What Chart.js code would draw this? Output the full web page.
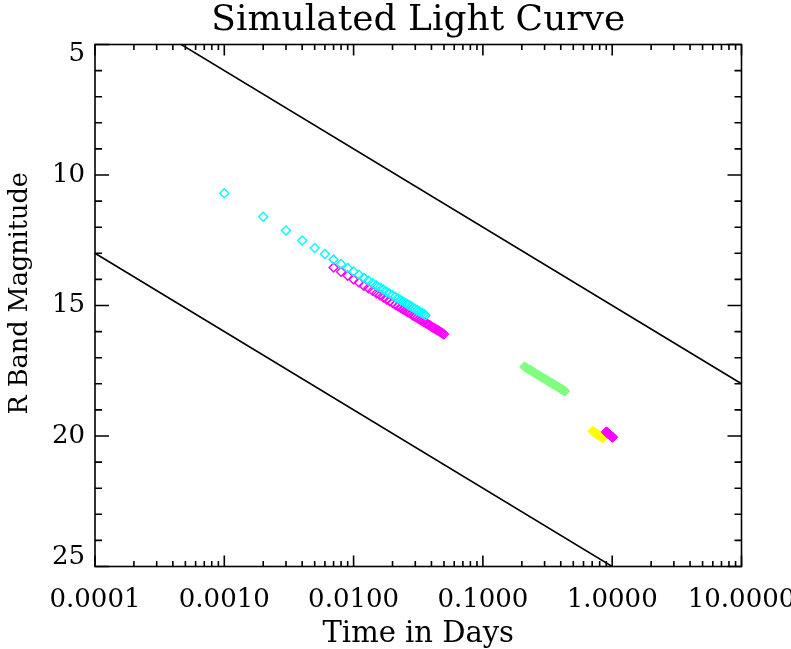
<!DOCTYPE html>
<html>
<head>
<meta charset="utf-8">
<title>Simulated Light Curve</title>
<script src="https://cdn.jsdelivr.net/npm/chart.js@4.4.1/dist/chart.umd.min.js"></script>
<style>
	html, body { margin: 0; padding: 0; background: #fff; }
	canvas { display: block; }
</style>
</head>
<body>
<canvas id="light-curve" width="791" height="649"></canvas>
<script>
/*jshint esversion: 6 */

// axis ticks
const xTicks = [ 0.0001, 0.001, 0.01, 0.1, 1, 10 ];
const yTicks = [ 5, 10, 15, 20, 25 ];

// the two black reference lines (clipped by the plot area)
const lineTime = [ 0.0001, 10 ];
const upperLineMag = [ 3, 18 ];
const lowerLineMag = [ 13, 28 ];

// cyan diamonds
const cyanTime = [ 0.001, 0.002, 0.003, 0.004, 0.005, 0.006, 0.007, 0.008, 0.009, 0.010,
	0.011, 0.012, 0.013, 0.014, 0.015, 0.016, 0.017, 0.018, 0.019, 0.020,
	0.021, 0.022, 0.023, 0.024, 0.025, 0.026, 0.027, 0.028, 0.029, 0.030,
	0.031, 0.032, 0.033, 0.034, 0.035, 0.036 ];
const cyanMag = [ 10.70, 11.60, 12.13, 12.51, 12.80, 13.03, 13.24, 13.41, 13.56, 13.70,
	13.82, 13.94, 14.04, 14.14, 14.23, 14.31, 14.39, 14.47, 14.54, 14.60,
	14.67, 14.73, 14.79, 14.84, 14.89, 14.95, 14.99, 15.04, 15.09, 15.13,
	15.17, 15.22, 15.26, 15.29, 15.33, 15.37 ];

// magenta diamonds, early part
const magentaTime = [ 0.007, 0.008, 0.009, 0.010, 0.011, 0.012, 0.013, 0.014, 0.015, 0.016,
	0.017, 0.018, 0.019, 0.020, 0.021, 0.022, 0.023, 0.024, 0.025, 0.026,
	0.027, 0.028, 0.029, 0.030, 0.031, 0.032, 0.033, 0.034, 0.035, 0.036,
	0.037, 0.038, 0.039, 0.040, 0.041, 0.042, 0.043, 0.044, 0.045, 0.046,
	0.047, 0.048, 0.049, 0.050 ];
const magentaMag = [ 13.54, 13.71, 13.86, 14.00, 14.12, 14.24, 14.34, 14.44, 14.53, 14.61,
	14.69, 14.77, 14.84, 14.90, 14.97, 15.03, 15.09, 15.14, 15.19, 15.25,
	15.29, 15.34, 15.39, 15.43, 15.47, 15.52, 15.56, 15.59, 15.63, 15.67,
	15.70, 15.74, 15.77, 15.81, 15.84, 15.87, 15.90, 15.93, 15.96, 15.99,
	16.02, 16.04, 16.07, 16.10 ];

// green cluster
const greenTime = [ 0.21, 0.22, 0.23, 0.24, 0.25, 0.26, 0.27, 0.28, 0.29, 0.30, 0.31, 0.32,
	0.33, 0.34, 0.35, 0.36, 0.37, 0.38, 0.39, 0.40, 0.41, 0.42, 0.43 ];
const greenMag = [ 17.35, 17.41, 17.47, 17.52, 17.57, 17.63, 17.67, 17.72, 17.77, 17.81, 17.85, 17.90,
	17.94, 17.97, 18.01, 18.05, 18.08, 18.12, 18.15, 18.19, 18.22, 18.25, 18.28 ];

// yellow cluster
const yellowTime = [ 0.71, 0.73, 0.75, 0.77, 0.79, 0.81, 0.83, 0.85 ];
const yellowMag = [ 19.82, 19.86, 19.90, 19.94, 19.97, 20.01, 20.04, 20.07 ];

// magenta cluster near one day
const magentaLateTime = [ 0.90, 0.91, 0.92, 0.93, 0.94, 0.95, 0.96, 0.97, 0.98, 0.99, 1.00, 1.01 ];
const magentaLateMag = [ 19.84, 19.86, 19.88, 19.90, 19.92, 19.94, 19.96, 19.98, 20.00, 20.02, 20.04, 20.05 ];

const FONT = "'DejaVu Serif', 'Liberation Serif', serif";

const toPoints = ( xs, ys ) => xs.map( ( x, i ) => ( { x: x, y: ys[ i ] } ) );

const xMinorTicks = [];
for ( let i = 0; i < xTicks.length - 1; i++ ) {
	for ( let k = 2; k <= 9; k++ ) {
		xMinorTicks.push( xTicks[ i ] * k );
	}
}
const yMinorTicks = [];
for ( let v = yTicks[ 0 ]; v <= yTicks[ yTicks.length - 1 ]; v++ ) {
	yMinorTicks.push( v );
}

// frame with inward ticks on all four sides, IDL style
const frameTicks = {
	id: 'frameTicks',
	afterDatasetsDraw: ( chart ) => {
		const ctx = chart.ctx;
		const a = chart.chartArea;
		const x = chart.scales.x;
		const y = chart.scales.y;
		ctx.save();
		ctx.strokeStyle = '#000';
		ctx.lineWidth = 1.6;
		ctx.beginPath();
		const tickX = ( v, len ) => {
			const px = x.getPixelForValue( v );
			ctx.moveTo( px, a.bottom );
			ctx.lineTo( px, a.bottom - len );
			ctx.moveTo( px, a.top );
			ctx.lineTo( px, a.top + len );
		};
		const tickY = ( v, len ) => {
			const py = y.getPixelForValue( v );
			ctx.moveTo( a.left, py );
			ctx.lineTo( a.left + len, py );
			ctx.moveTo( a.right, py );
			ctx.lineTo( a.right - len, py );
		};
		xTicks.forEach( ( v ) => tickX( v, 11 ) );
		xMinorTicks.forEach( ( v ) => tickX( v, 5.5 ) );
		yTicks.forEach( ( v ) => tickY( v, 14 ) );
		yMinorTicks.forEach( ( v ) => tickY( v, 7 ) );
		ctx.stroke();
		ctx.strokeRect( a.left, a.top, a.right - a.left, a.bottom - a.top );
		ctx.restore();
	}
};

const hollow = ( data, color ) => ( {
	data: data,
	pointStyle: 'rectRot',
	pointRadius: 4.5,
	pointHoverRadius: 4.5,
	borderWidth: 1.4,
	borderColor: color,
	backgroundColor: 'rgba(0,0,0,0)',
	showLine: false
} );
const filled = ( data, color ) => ( {
	data: data,
	pointStyle: 'rectRot',
	pointRadius: 5,
	pointHoverRadius: 5,
	borderWidth: 1,
	borderColor: color,
	backgroundColor: color,
	showLine: false
} );
const line = ( data ) => ( {
	data: data,
	showLine: true,
	pointRadius: 0,
	borderColor: '#000',
	borderWidth: 1.6,
	fill: false
} );

window.onload = () => {
	const ctx = document.getElementById( 'light-curve' ).getContext( '2d' );
	new Chart( ctx, {
		type: 'scatter',
		data: {
			datasets: [
				hollow( toPoints( cyanTime, cyanMag ), '#00ffff' ),
				hollow( toPoints( magentaTime, magentaMag ), '#ff00ff' ),
				filled( toPoints( greenTime, greenMag ), '#80ff80' ),
				filled( toPoints( magentaLateTime, magentaLateMag ), '#ff00ff' ),
				filled( toPoints( yellowTime, yellowMag ), '#ffff00' ),
				line( toPoints( lineTime, upperLineMag ) ),
				line( toPoints( lineTime, lowerLineMag ) )
			]
		},
		options: {
			responsive: false,
			animation: false,
			devicePixelRatio: 1,
			layout: { padding: { left: 0, right: 49.5, top: 0, bottom: 0 } },
			plugins: {
				legend: { display: false },
				tooltip: { enabled: false },
				title: {
					display: true,
					text: 'Simulated Light Curve',
					fullSize: false,
					color: '#000',
					font: { family: FONT, size: 36, weight: 'normal', lineHeight: 1 },
					padding: { top: 3, bottom: 5.5 }
				}
			},
			scales: {
				x: {
					type: 'logarithmic',
					position: 'bottom',
					min: xTicks[ 0 ],
					max: xTicks[ xTicks.length - 1 ],
					grid: { display: false, drawTicks: false },
					border: { display: false },
					afterBuildTicks: ( scale ) => {
						scale.ticks = xTicks.map( ( v ) => ( { value: v } ) );
					},
					afterFit: ( scale ) => {
						scale.height = 82.5;
						scale.paddingLeft = 0;
						scale.paddingRight = 0;
					},
					ticks: {
						autoSkip: false,
						maxRotation: 0,
						padding: 18,
						color: '#000',
						font: { family: FONT, size: 26 },
						callback: ( value ) => Number( value ).toFixed( 4 )
					},
					title: {
						display: true,
						text: 'Time in Days',
						color: '#000',
						font: { family: FONT, size: 29, lineHeight: 1 },
						padding: { top: 0, bottom: 0 }
					}
				},
				y: {
					type: 'linear',
					position: 'left',
					reverse: true,
					min: yTicks[ 0 ],
					max: yTicks[ yTicks.length - 1 ],
					grid: { display: false, drawTicks: false },
					border: { display: false },
					afterFit: ( scale ) => {
						scale.width = 95;
						scale.paddingTop = 0;
						scale.paddingBottom = 0;
					},
					ticks: {
						stepSize: 5,
						padding: 10,
						color: '#000',
						font: { family: FONT, size: 26, lineHeight: 0.72 },
						callback: ( value ) => {
							if ( value === yTicks[ 0 ] ) {
								return [ '', String( value ) ];
							}
							if ( value === yTicks[ yTicks.length - 1 ] ) {
								return [ String( value ), '' ];
							}
							return String( value );
						}
					},
					title: {
						display: true,
						text: '   R Band Magnitude',
						color: '#000',
						font: { family: FONT, size: 25.5, lineHeight: 1 },
						padding: { top: 8, bottom: 0 }
					}
				}
			}
		},
		plugins: [ frameTicks ]
	} );
};
</script>
</body>
</html>
